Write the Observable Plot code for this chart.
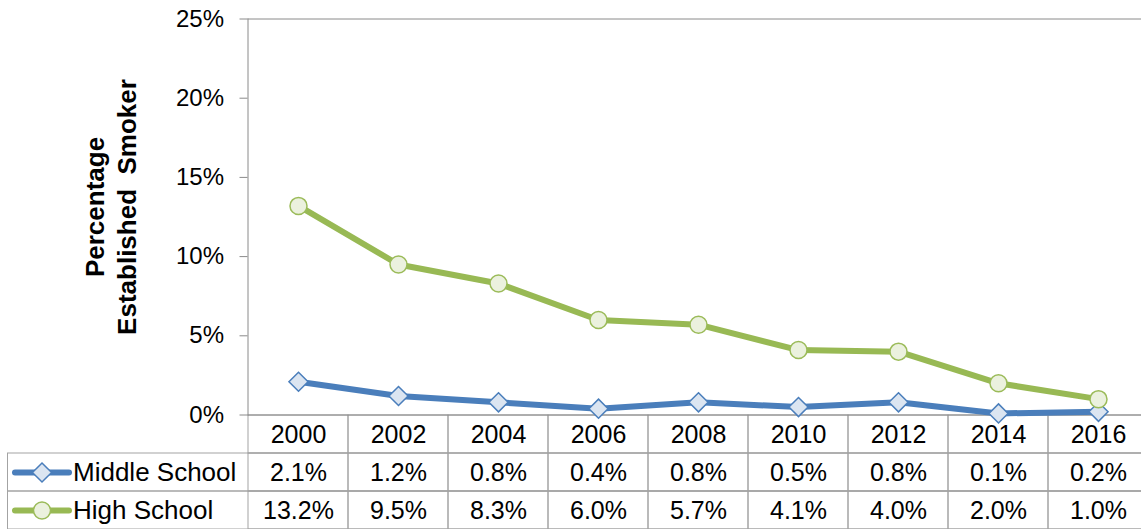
<!DOCTYPE html>
<html><head><meta charset="utf-8">
<script src="https://cdn.jsdelivr.net/npm/d3@7"></script>
<script src="https://cdn.jsdelivr.net/npm/@observablehq/plot@0.6"></script>
<style>
body{margin:0;background:#fff;font-family:"Liberation Sans",Arial,sans-serif;}
#wrap{position:relative;width:1141px;height:529px;overflow:hidden;background:#fff;}
#wrap svg{position:absolute;left:0;overflow:visible;background:transparent;}
</style></head><body><div id="wrap"></div>
<script>
const years = ["2000","2002","2004","2006","2008","2010","2012","2014","2016"];
const middleSchool = [2.1, 1.2, 0.8, 0.4, 0.8, 0.5, 0.8, 0.1, 0.2];
const highSchool = [13.2, 9.5, 8.3, 6.0, 5.7, 4.1, 4.0, 2.0, 1.0];
const seriesNames = ["Middle School", "High School"];
const seriesValues = [middleSchool, highSchool];
const seriesColors = ["#4a7ebb", "#98b954"];
const markerFills = ["#dbe5f1", "#ebf1de"];
const markerStrokes = ["#4a7ebb", "#9bbb59"];
const markerSymbols = ["diamond2", "circle"];
const markerR = [8.6, 8.5];
const yTicks = [0, 5, 10, 15, 20, 25];
const yLabel = ["Percentage", "Established\u00a0 Smoker"];

const FONT = "'Liberation Sans', Arial, sans-serif";
const axisGray = "#8a8a8a";
const tableGray = "#a3a3a3";
const xRange = [247.5, 1149.3];

const data = years.flatMap((y, i) => seriesNames.map((s, k) => ({year: y, series: s, value: seriesValues[k][i]})));

const chart = Plot.plot({
  width: 1141, height: 416,
  marginLeft: 247.5, marginRight: -8.3, marginTop: 18.5, marginBottom: 1.5,
  style: {fontFamily: FONT, background: "transparent", overflow: "visible"},
  x: {type: "band", domain: years, range: xRange, padding: 0, axis: null},
  y: {domain: [0, 25]},
  marks: [
    Plot.axisY({ticks: yTicks, tickFormat: d => d + "%", tickSize: 8, tickPadding: 16, fontSize: 24, fill: "#000", stroke: axisGray, label: null}),
    Plot.frame({anchor: "top", stroke: axisGray}),
    Plot.frame({anchor: "left", stroke: axisGray}),
    Plot.ruleY([0], {stroke: axisGray}),
    Plot.text([yLabel.join("\n")], {frameAnchor: "left", textAnchor: "middle", lineAnchor: "middle", rotate: -90, dx: -138, dy: -10, fontSize: 26, fontWeight: "bold", lineHeight: 1.23, fill: "#000"}),
    ...seriesNames.map((s, k) => Plot.line(data.filter(d => d.series === s), {x: "year", y: "value", stroke: seriesColors[k], strokeWidth: 6})),
    ...seriesNames.map((s, k) => Plot.dot(data.filter(d => d.series === s), {x: "year", y: "value", symbol: markerSymbols[k], r: markerR[k], fill: markerFills[k], stroke: markerStrokes[k], strokeWidth: 1.5}))
  ]
});

const rows = ["year", ...seriesNames];
const cells = years.flatMap((y, i) => [
  {year: y, row: "year", label: y},
  ...seriesNames.map((s, k) => ({year: y, row: s, label: seriesValues[k][i].toFixed(1) + "%"}))
]);
const lineSymbol = {draw(ctx) { ctx.moveTo(-27, 0); ctx.lineTo(27, 0); }};

const table = Plot.plot({
  width: 1141, height: 115,
  marginLeft: 7.5, marginRight: -8.3, marginTop: 0.5, marginBottom: 0.5,
  style: {fontFamily: FONT, background: "transparent", overflow: "visible"},
  x: {type: "band", domain: years, range: xRange, padding: 0, axis: null},
  y: {type: "band", domain: rows, padding: 0, axis: null},
  marks: [
    Plot.cell(seriesNames, {y: d => d, fill: "none", stroke: tableGray}),
    Plot.cell(cells, {x: "year", y: "row", fill: "none", stroke: tableGray}),
    Plot.text(cells, {x: "year", y: "row", text: "label", fontSize: 25, fill: "#000"}),
    Plot.text(seriesNames, {y: d => d, text: d => d, frameAnchor: "left", textAnchor: "start", dx: 65, fontSize: 26, fill: "#000"}),
    ...seriesNames.map((s, k) => Plot.dot([s], {y: d => d, frameAnchor: "left", dx: 34, symbol: lineSymbol, r: 5, fill: "none", stroke: seriesColors[k], strokeWidth: 6, strokeLinecap: "round"})),
    ...seriesNames.map((s, k) => Plot.dot([s], {y: d => d, frameAnchor: "left", dx: 34, symbol: markerSymbols[k], r: markerR[k], fill: markerFills[k], stroke: markerStrokes[k], strokeWidth: 1.5}))
  ]
});

const wrap = document.getElementById("wrap");
table.style.top = "414px";
chart.style.top = "0px";
wrap.appendChild(table);
wrap.appendChild(chart);
</script>
</body></html>
